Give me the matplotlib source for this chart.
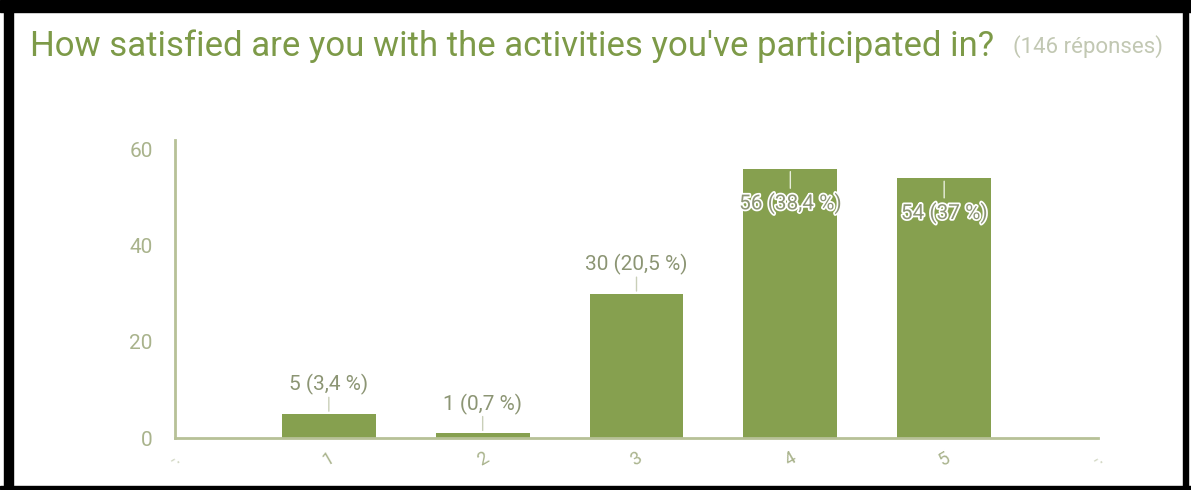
import matplotlib
matplotlib.use("Agg")
import matplotlib.pyplot as plt
import matplotlib.patheffects as pe
from matplotlib.patches import Rectangle

categories = ["1", "2", "3", "4", "5"]
counts = [5, 1, 30, 56, 54]
percent_labels = ["3,4", "0,7", "20,5", "38,4", "37"]
yticks = [0, 20, 40, 60]
title = "How satisfied are you with the activities you've participated in?"
subtitle = "(146 réponses)"

plt.rcParams['font.family'] = ['Roboto', 'DejaVu Sans']

BAR = "#86a04f"
AXIS = "#b7c197"
TICK = "#a9b38c"
LABEL = "#8c9574"
TITLE = "#7d9a48"

fig = plt.figure(figsize=(11.91, 4.90), dpi=100)
fig.patch.set_facecolor("white")
ax = fig.add_axes([175/1191, (490-438)/490, (1098-175)/1191, (438-140)/490])

x = list(range(1, len(categories) + 1))
ax.bar(x, counts, width=0.61, color=BAR, zorder=2)
ax.set_xlim(0, len(categories) + 1)
ax.set_ylim(0, 62)

for s in ["top", "right"]:
    ax.spines[s].set_visible(False)
for s in ["left", "bottom"]:
    ax.spines[s].set_color(AXIS)
    ax.spines[s].set_linewidth(2)

ax.set_yticks(yticks)
ax.set_yticklabels([str(v) for v in yticks], fontsize=15, color=TICK)
ax.tick_params(axis="y", length=0, pad=16)

ax.set_xticks([0] + x + [len(categories) + 1])
ax.set_xticklabels(["-."] + categories + ["-."], fontsize=13, color=TICK, rotation=30)
ax.tick_params(axis="x", length=0, pad=8)
ax.get_xticklabels()[0].set_alpha(0.5)
ax.get_xticklabels()[-1].set_alpha(0.5)

for xi, c, p in zip(x, counts, percent_labels):
    txt = f"{c} ({p} %)"
    if c > 45:
        ax.annotate(txt, xy=(xi, c), xytext=(0, -25), textcoords="offset points",
                    ha="center", va="center", fontsize=15, color=LABEL,
                    path_effects=[pe.withStroke(linewidth=2.5, foreground="white")], zorder=4)
        ax.annotate("", xy=(xi, c), xytext=(0, -16), textcoords="offset points",
                    arrowprops=dict(arrowstyle="-", color="#e8eedc", lw=1), zorder=3)
    else:
        ax.annotate(txt, xy=(xi, c), xytext=(0, 21), textcoords="offset points",
                    ha="center", va="center", fontsize=15, color=LABEL, zorder=4)
        ax.annotate("", xy=(xi, c), xytext=(0, 14), textcoords="offset points",
                    arrowprops=dict(arrowstyle="-", color="#c9cfb8", lw=1), zorder=3)

fig.text(30/1191, 1 - 46/490, title, fontsize=25, color=TITLE, ha="left", va="center")
fig.text(1163/1191, 1 - 47/490, subtitle, fontsize=16, color="#c2c8b3", ha="right", va="center")

# black frame
fr = dict(transform=fig.transFigure, color="black", zorder=10, clip_on=False)
fig.patches.append(Rectangle((4/1191, 0), 9/1191, 1, **fr))
fig.patches.append(Rectangle((0, 1 - 12/490), 1, 12/490, **fr))
fig.patches.append(Rectangle((1183/1191, 0), 5/1191, 1, **fr))
fig.patches.append(Rectangle((0, 1/490), 1, 3/490, **fr))

fig.savefig("out.png", dpi=100)
